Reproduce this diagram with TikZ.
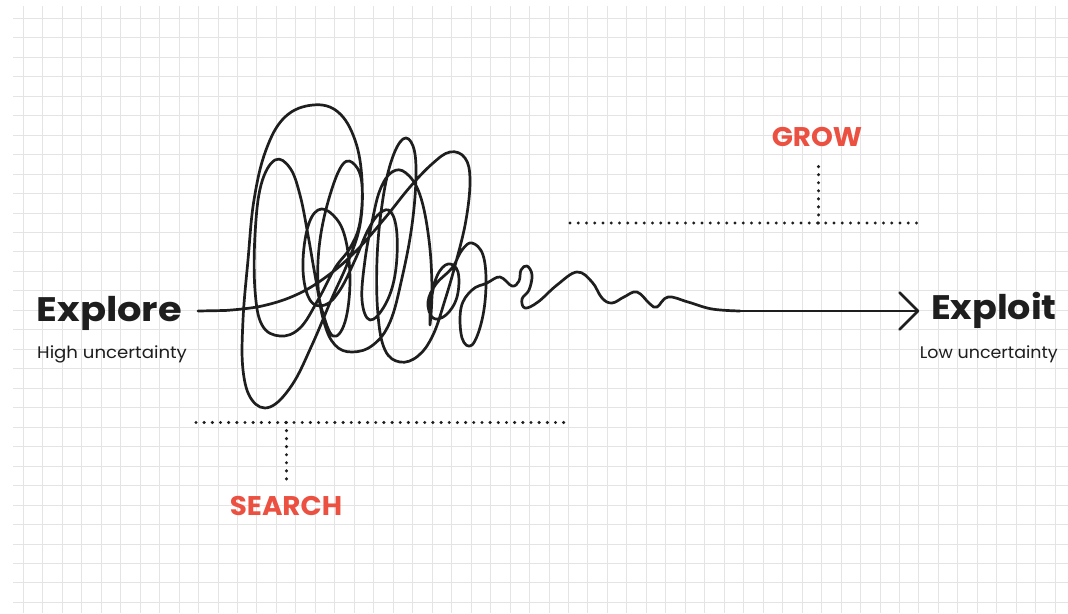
\documentclass[tikz,border=0pt]{standalone}
\usepackage{fontspec}
\setmainfont{Poppins}
\newfontfamily\titlefont[FakeStretch=1.13]{Poppins}
\newfontfamily\titlefontb[FakeStretch=1.075]{Poppins}
\newfontfamily\subfont[FakeStretch=1.08]{Poppins}
\newfontfamily\subfontb[FakeStretch=1.04]{Poppins}
\newfontfamily\phasefont[FakeStretch=1.03]{Poppins}
\definecolor{accent}{RGB}{235,80,64}
\definecolor{ink}{RGB}{30,30,30}
\definecolor{gridc}{RGB}{228,228,228}
\tikzset{
  gridline/.style={draw=gridc, line width=0.9pt},
  dotline/.style={draw=ink, line width=3.4pt, line cap=round, dash pattern=on 0pt off #1pt},
  dotline/.default=8.2,
  scribble/.style={draw=ink, line width=2.7pt, line cap=round, line join=round},
  title/.style={inner sep=0pt, text=ink, font=\titlefont\fontsize{34}{40}\selectfont\bfseries},
  titleb/.style={inner sep=0pt, text=ink, font=\titlefontb\fontsize{34}{40}\selectfont\bfseries},
  subtitle/.style={inner sep=0pt, text=ink, font=\subfont\fontsize{16.8}{20}\selectfont},
  subtitleb/.style={inner sep=0pt, text=ink, font=\subfontb\fontsize{16.8}{20}\selectfont},
  phase/.style={inner sep=0pt, text=accent, font=\phasefont\fontsize{27}{32}\selectfont\bfseries},
}
\begin{document}
\begin{tikzpicture}[x=1pt,y=-1pt]
\useasboundingbox[fill=white] (0,0) rectangle (1068,613);
% grid
\foreach \k in {0,...,53} { \draw[gridline] ({23.3+19.47*\k},6) -- ({23.3+19.47*\k},613); }
\foreach \k in {0,...,30} { \draw[gridline] (13,{18.3+19.47*\k}) -- (1068,{18.3+19.47*\k}); }

% labels
\node[title, anchor=base west] (explore) at (36.5,321) {Explore};
\node[subtitle, anchor=base west] (high) at (37,358) {High uncertainty};
\node[titleb, anchor=base east] (exploit) at (1057,319.5) {Exploit};
\node[subtitleb, anchor=base east] (low) at (1058,358) {Low uncertainty};
\node[phase, anchor=base] (search) at (286,515) {SEARCH};
\node[phase, anchor=base] (grow) at (817,146.5) {GROW};

% dotted brackets
\coordinate (sl) at (196,422.5);
\coordinate (sr) at (564.5,422.5);
\coordinate (sm) at (286.5,422.5);
\coordinate (sb) at (286.5,479.5);
\draw[dotline=8.17] (sl) -- (sr);
\draw[dotline=8.05] (sm) -- (sb);
\coordinate (gl) at (570,223);
\coordinate (gr) at (917.5,223);
\coordinate (gm) at (818.5,223);
\coordinate (gt) at (818.5,166);
\draw[dotline=8.25] (gl) -- (gr);
\draw[dotline=8.05] (gm) -- (gt);

% scribble
\coordinate (start) at (198,311);
\coordinate (tail) at (740,311);
\coordinate (tip) at (918,311);
\draw[scribble] (start) -- (225,310.5) plot[smooth, tension=0.65] coordinates {
(225,310.5) (262,306) (298,294) (330,274) (358,249) (385,218) (410,187) (432,164)
(450,152) (465,158) (470,180) (466,220) (456,262) (445,300) (433,335) (418,356)
(400,362) (385,350) (378,315) (377,260) (382,205) (391,162) (403,139) (413,146)
(416,175) (412,225) (402,278) (390,322) (373,345) (352,352) (335,345) (324,322)
(318,285) (320,240) (330,195) (343,164) (355,165) (362,185) (360,225) (348,262)
(332,298) (312,345) (292,385) (270,407) (252,400) (243,370) (243,320) (248,260)
(254,200) (266,150) (285,117) (313,105) (338,112) (355,140) (362,180) (360,222)
(350,248) (335,268) (318,300) (300,328) (280,336) (262,325) (255,290) (255,235)
(261,185) (275,160) (290,168) (300,195) (308,235) (315,275) (322,310) (333,336)
(345,322) (350,280) (345,237) (333,215) (318,210) (307,230) (303,270) (310,300)
(325,305) (340,290) (355,260) (368,230) (380,213) (391,212) (397,235) (395,275)
(385,305) (370,320) (362,300) (365,260) (372,222) (380,190) (392,172) (406,173)
(420,195) (429,240) (432,290) (430,325) (431,302) (437,276) (448,264) (458,272)
(457,297) (446,315) (433,318) (428,302) (436,284) (452,268) (462,250) (472,243)
(483,255) (486,285) (482,320) (472,345) (462,338) (461,308) (472,290) (487,283)
(500,277) (512,286) (519,281) (521,270) (527,266) (532,275) (529,290) (522,299)
(525,308) (538,302) (557,285) (577,272) (592,282) (602,298) (612,303) (624,297)
(637,292) (650,304) (657,307) (668,297) (688,302) (712,309) (740,311)};
\draw[scribble] (tail) -- (tip);
\draw[scribble] (899.5,292.5) -- (tip) -- (899.5,329.5);
\end{tikzpicture}
\end{document}
